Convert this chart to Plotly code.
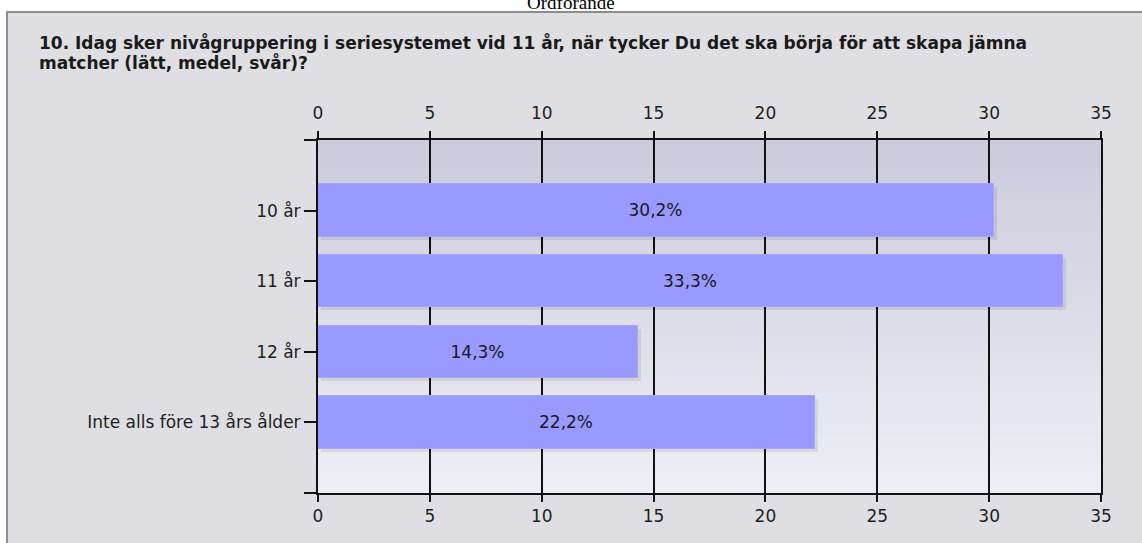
import plotly.graph_objects as go

categories = ["10 år", "11 år", "12 år", "Inte alls före 13 års ålder"]
values = [30.2, 33.3, 14.3, 22.2]
labels = ["30,2%", "33,3%", "14,3%", "22,2%"]
x_ticks = [0, 5, 10, 15, 20, 25, 30, 35]

title_lines = [
    "10. Idag sker nivågruppering i seriesystemet vid 11 år, när tycker Du det ska börja för att skapa jämna",
    "matcher (lätt, medel, svår)?",
]
header_text = "Ordförande"

W, H = 1142, 543
L, R, T, B = 318, 1101, 140, 493
pw, ph = R - L, B - T


def px_x(px):
    return (px - L) / pw


def px_y(py):
    return (B - py) / ph


ypos = list(range(len(categories)))
FONT = "DejaVu Sans"
FS = 17

fig = go.Figure()

# soft shadow behind bars
sx = 3 / (pw / 35)
sy = 3 / (ph / 5)
fig.add_trace(go.Bar(
    x=values, y=[p + sy for p in ypos], base=sx, orientation="h", width=0.74,
    marker=dict(color="rgba(0,0,0,0.08)", line=dict(width=0)),
    hoverinfo="skip", showlegend=False,
))
fig.add_trace(go.Bar(
    x=values, y=ypos, orientation="h", width=0.74,
    marker=dict(color="#9999FF", line=dict(color="#A6A6FF", width=1)),
    text=labels, textposition="inside", insidetextanchor="middle",
    textfont=dict(family=FONT, size=FS, color="#1a1a1a"),
    showlegend=False,
))
# invisible trace so the top axis is drawn
fig.add_trace(go.Scatter(x=[0], y=[0], xaxis="x2", mode="markers",
                         marker=dict(opacity=0), hoverinfo="skip", showlegend=False))

shapes = []
shapes.append(dict(type="rect", xref="paper", yref="paper",
                   x0=px_x(7), x1=px_x(1160), y0=px_y(560), y1=px_y(12),
                   fillcolor="#DFDEE3", line=dict(color="#8C8C8C", width=2), layer="below"))
n = 60
c0 = (203, 203, 220)
c1 = (238, 238, 246)
for i in range(n):
    t = i / (n - 1)
    c = tuple(round(c0[k] + (c1[k] - c0[k]) * t) for k in range(3))
    shapes.append(dict(type="rect", xref="x domain", yref="y domain",
                       x0=0, x1=1, y0=1 - (i + 1) / n - 0.001, y1=1 - i / n,
                       fillcolor="rgb(%d,%d,%d)" % c, line=dict(width=0), layer="below"))

axis_font = dict(family=FONT, size=FS, color="#1e1e1e")
fig.update_layout(
    width=W, height=H,
    margin=dict(l=L, r=W - R, t=T, b=H - B, pad=0),
    paper_bgcolor="white",
    plot_bgcolor="rgba(0,0,0,0)",
    barmode="overlay",
    bargap=0,
    shapes=shapes,
    font=dict(family=FONT, size=FS, color="#1e1e1e"),
    xaxis=dict(range=[0, 35], tickvals=x_ticks, showgrid=True, gridcolor="#111111", gridwidth=2,
               zeroline=False, showline=True, linecolor="#111111", linewidth=2,
               ticks="outside", ticklen=7, tickwidth=2, tickcolor="#111111",
               tickfont=axis_font, side="bottom", fixedrange=True),
    xaxis2=dict(range=[0, 35], tickvals=x_ticks, overlaying="x", side="top", showgrid=False,
                zeroline=False, showline=True, linecolor="#111111", linewidth=2,
                ticks="outside", ticklen=7, tickwidth=2, tickcolor="#111111",
                ticklabelstandoff=5, tickfont=axis_font, fixedrange=True),
    yaxis=dict(range=[4, -1], tickvals=[-1] + ypos + [4], ticktext=[""] + categories + [""],
               showgrid=False, zeroline=False, showline=True, linecolor="#111111", linewidth=2,
               mirror=True, ticks="outside", ticklen=12, tickwidth=2, tickcolor="#111111",
               tickfont=axis_font, fixedrange=True),
    annotations=[
        dict(text=title_lines[0], xref="paper", yref="paper", x=px_x(37), y=px_y(43),
             xanchor="left", yanchor="middle", align="left", showarrow=False,
             font=dict(family=FONT, size=17, color="#1a1a1a", weight="bold")),
        dict(text=title_lines[1], xref="paper", yref="paper", x=px_x(37), y=px_y(62),
             xanchor="left", yanchor="middle", align="left", showarrow=False,
             font=dict(family=FONT, size=17, color="#1a1a1a", weight="bold")),
        dict(text=header_text, xref="paper", yref="paper", x=px_x(571), y=px_y(2.5),
             xanchor="center", yanchor="middle", showarrow=False,
             font=dict(family="Liberation Serif", size=19, color="#000000")),
    ],
)

fig.write_html("out.html", config={"displayModeBar": False},
               post_script="document.body.style.margin='0';")
